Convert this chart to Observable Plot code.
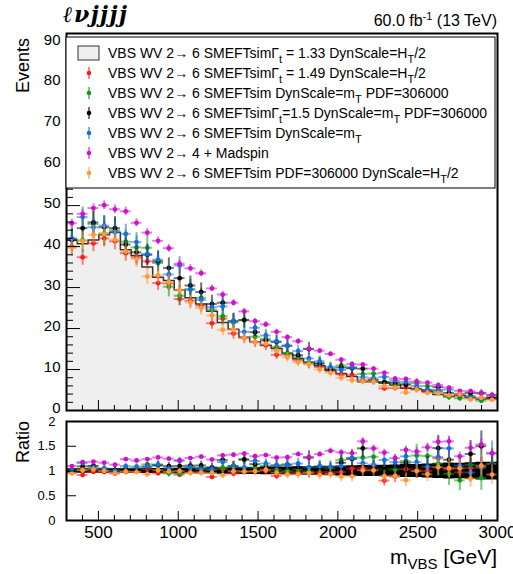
<!DOCTYPE html>
<html><head><meta charset="utf-8">
<script src="https://cdn.jsdelivr.net/npm/d3@7"></script>
<script src="https://cdn.jsdelivr.net/npm/@observablehq/plot@0.6"></script>
<style>
html,body{margin:0;padding:0;background:#fff;}
#wrap{position:relative;width:513px;height:574px;overflow:hidden;font-family:"Liberation Sans",Arial,Helvetica,sans-serif;}
#wrap > svg{position:absolute;left:0;overflow:visible;}
</style></head><body><div id="wrap"></div>
<script>
// ---------------- data ----------------
const binStart = 300, binWidth = 67.5;
const xTickLabels = [500, 1000, 1500, 2000, 2500, 3000];
const yTickLabels = [0, 10, 20, 30, 40, 50, 60, 70, 80, 90];
const ratioTickLabels = [0, 0.5, 1, 1.5, 2];

const hist = [41.6, 40.7, 41.6, 42.9, 43.5, 39.2, 37.8, 35.0, 32.5, 31.7, 29.4, 27.5, 26.0, 24.2, 21.5, 19.8, 17.9, 16.8, 15.9, 15.1,
              14.0, 12.6, 11.8, 10.9, 9.8, 9.0, 8.3, 7.0, 7.0, 6.7, 6.2, 5.4, 5.1, 4.6, 3.9, 3.5, 3.7, 3.2, 2.8, 2.8];
const red = [40.0, 37.4, 40.8, 42.0, 41.3, 38.4, 37.4, 36.4, 31.1, 31.0, 27.2, 26.8, 25.6, 21.3, 22.4, 18.8, 17.7, 16.7, 15.9, 13.6,
             13.6, 12.3, 11.4, 10.6, 9.6, 8.8, 8.7, 7.4, 7.4, 5.4, 5.5, 5.6, 5.3, 4.6, 4.9, 3.6, 3.6, 3.4, 3.0, 3.2];
const green = [41.9, 41.5, 45.5, 43.2, 44.0, 41.2, 39.8, 39.7, 36.0, 30.2, 28.0, 29.6, 27.5, 24.6, 23.0, 21.5, 22.0, 18.0, 17.5, 15.5,
               14.0, 13.0, 11.7, 11.6, 10.2, 11.0, 10.5, 8.9, 9.0, 6.9, 6.4, 6.5, 6.7, 6.0, 4.5, 3.3, 3.0, 3.6, 2.4, 3.2];
const black = [41.6, 44.5, 45.9, 44.7, 44.5, 40.5, 38.6, 38.0, 36.4, 34.8, 32.3, 30.5, 28.9, 26.0, 26.3, 21.8, 22.1, 19.1, 17.1, 16.7,
               15.8, 13.5, 15.0, 11.4, 10.0, 10.5, 10.3, 10.2, 7.4, 6.9, 6.8, 6.3, 5.3, 5.0, 5.7, 4.3, 3.9, 4.3, 4.2, 3.1];
const blue = [42.0, 47.2, 44.7, 45.1, 43.5, 43.1, 41.1, 38.2, 36.8, 33.2, 35.4, 29.5, 27.0, 25.2, 25.4, 21.8, 19.2, 20.2, 18.3, 16.9,
              15.8, 14.5, 12.7, 12.0, 10.6, 9.9, 10.5, 8.1, 7.9, 8.2, 7.3, 7.0, 6.0, 5.0, 5.0, 5.1, 4.1, 3.1, 3.0, 3.8];
const magenta = [45.7, 48.0, 49.4, 50.1, 49.1, 48.6, 45.8, 43.4, 41.4, 39.6, 35.8, 34.7, 33.5, 29.8, 28.3, 26.3, 24.2, 21.8, 21.0, 19.2,
                 17.9, 16.9, 15.1, 14.6, 13.8, 12.4, 11.3, 11.2, 10.2, 9.2, 7.8, 7.7, 7.1, 6.8, 6.2, 5.6, 4.8, 4.7, 4.3, 3.8];
const orange = [39.7, 41.3, 42.9, 43.1, 41.7, 38.8, 37.0, 32.7, 33.0, 31.3, 29.4, 26.4, 25.0, 23.2, 19.7, 19.7, 17.7, 16.7, 16.3, 14.6,
                13.0, 11.8, 11.3, 10.0, 9.2, 8.0, 7.4, 7.1, 7.1, 6.0, 5.6, 4.4, 5.1, 4.3, 4.2, 3.7, 3.9, 2.7, 3.1, 2.6];

const histLabel = "VBS WV 2→ 6 SMEFTsimΓ_{t} = 1.33 DynScale=H_{T}/2";
const seriesLabels = [
  "VBS WV 2→ 6 SMEFTsimΓ_{t} = 1.49 DynScale=H_{T}/2",
  "VBS WV 2→ 6 SMEFTsim DynScale=m_{T} PDF=306000",
  "VBS WV 2→ 6 SMEFTsimΓ_{t}=1.5 DynScale=m_{T}  PDF=306000",
  "VBS WV 2→ 6 SMEFTsim DynScale=m_{T}",
  "VBS WV 2→ 4 + Madspin",
  "VBS WV 2→ 6 SMEFTsim PDF=306000 DynScale=H_{T}/2"
];
const seriesValues = [red, green, black, blue, magenta, orange];
const seriesColors = ["#ff1a1a", "#109a10", "#000000", "#1a6fd6", "#cc11cc", "#ff9a3c"];
const errScale = [0.32, 0.45, 0.42, 0.36, 0.15, 0.34];

// ---------------- build ----------------
const bins = hist.map((h, i) => ({i, x1: binStart + i * binWidth, x2: binStart + (i + 1) * binWidth, xc: binStart + (i + 0.5) * binWidth, h,
  he: 0.3 * Math.sqrt(h) / h}));
const last = bins[bins.length - 1];
const stepPts = bins.map(b => ({x: b.x1, y: b.h, lo: 1 - b.he, hi: 1 + b.he}))
  .concat([{x: last.x2, y: last.h, lo: 1 - last.he, hi: 1 + last.he}]);

const series = seriesValues.map((vals, k) => vals.map((v, i) => {
  const e = errScale[k] * Math.sqrt(v);
  return {x1: bins[i].x1, x2: bins[i].x2, xc: bins[i].xc, v, e, r: v / hist[i], re: e / hist[i]};
}));

const W = 513, ML = 66, MR = 16;
const plotW = W - ML - MR;
const font = '"Liberation Sans", Arial, Helvetica, sans-serif';

function seriesMarks(key, errKey) {
  const m = [];
  series.forEach((pts, k) => {
    const c = seriesColors[k];
    m.push(Plot.ruleY(pts, {y: key, x1: "x1", x2: "x2", stroke: c, strokeOpacity: 0.55, strokeWidth: 2}));
    m.push(Plot.ruleX(pts, {x: "xc", y1: d => d[key] - d[errKey], y2: d => d[key] + d[errKey], stroke: c, strokeOpacity: 0.55, strokeWidth: 2}));
    m.push(Plot.dot(pts, {x: "xc", y: key, fill: c, r: 2.4}));
  });
  return m;
}

const xMinor = d3.range(300, 3001, 100);
const mainH = 412, mainMT = 33, mainMB = 2;
const mainPH = mainH - mainMT - mainMB;
const yMinor = d3.range(0, 92, 2);

const main = Plot.plot({
  width: W, height: mainH, marginLeft: ML, marginRight: MR, marginTop: mainMT, marginBottom: mainMB,
  style: {fontFamily: font, fontSize: "15px", color: "#000", background: "transparent", overflow: "visible"},
  x: {domain: [300, 3000], axis: null},
  y: {domain: [0, 92]},
  marks: [
    Plot.areaY(stepPts, {x: "x", y: "y", curve: "step-after", fill: "#efefef"}),
    Plot.line(stepPts, {x: "x", y: "y", curve: "step-after", stroke: "#333", strokeWidth: 1.5}),
    ...seriesMarks("v", "e"),
    Plot.tickY(yMinor.filter(d => d % 10 !== 0), {y: d => d, insetRight: plotW - 7, stroke: "#000"}),
    Plot.tickY(yTickLabels, {y: d => d, insetRight: plotW - 14, stroke: "#000"}),
    Plot.tickX(xMinor.filter(d => d % 500 !== 0), {x: d => d, insetTop: mainPH - 5, stroke: "#000"}),
    Plot.tickX(xTickLabels, {x: d => d, insetTop: mainPH - 10, stroke: "#000"}),
    Plot.axisY({ticks: yTickLabels, tickSize: 0, tickPadding: 6, fontSize: 15, label: null, dy: -2}),
    Plot.frame({stroke: "#000", strokeWidth: 2})
  ]
});
main.style.top = "0px";

const ratH = 162, ratMT = 9, ratMB = 54;
const ratPH = ratH - ratMT - ratMB;
const ratio = Plot.plot({
  width: W, height: ratH, marginLeft: ML, marginRight: MR, marginTop: ratMT, marginBottom: ratMB,
  style: {fontFamily: font, fontSize: "15px", color: "#000", background: "transparent", overflow: "visible"},
  x: {domain: [300, 3000]},
  y: {domain: [0, 2]},
  marks: [
    Plot.areaY(stepPts, {x: "x", y1: "lo", y2: "hi", curve: "step-after", fill: "#000"}),
    ...seriesMarks("r", "re"),
    Plot.tickY(ratioTickLabels, {y: d => d, insetRight: plotW - 10, stroke: "#000"}),
    Plot.tickX(xMinor.filter(d => d % 500 !== 0), {x: d => d, insetTop: ratPH - 5, stroke: "#000"}),
    Plot.tickX(xTickLabels, {x: d => d, insetTop: ratPH - 9, stroke: "#000"}),
    Plot.axisY({ticks: ratioTickLabels, tickFormat: d => String(d), tickSize: 0, tickPadding: 11, fontSize: 13, label: null}),
    Plot.axisX({ticks: xTickLabels, tickFormat: d => String(d), tickSize: 0, tickPadding: 5, fontSize: 17, label: null}),
    Plot.frame({stroke: "#000", strokeWidth: 2})
  ]
});
ratio.style.top = mainH + "px";

const wrap = document.getElementById("wrap");
wrap.appendChild(main);
wrap.appendChild(ratio);

// ---------------- text overlay ----------------
function esc(s) { return s.replace(/&/g, "&amp;").replace(/</g, "&lt;"); }
function rich(str, subSize, subDy) {
  const re = /([_^])\{([^}]*)\}/g;
  let out = "", lastIdx = 0, m, pending = 0;
  while ((m = re.exec(str))) {
    const before = str.slice(lastIdx, m.index);
    if (before) out += pending ? `<tspan dy="${pending}">${esc(before)}</tspan>` : esc(before), pending = before ? 0 : pending;
    const dy = (m[1] === "_" ? subDy : -subDy - 2) + pending;
    out += `<tspan dy="${dy}" font-size="${subSize}">${esc(m[2])}</tspan>`;
    pending = -(m[1] === "_" ? subDy : -subDy - 2);
    lastIdx = re.lastIndex;
  }
  const rest = str.slice(lastIdx);
  if (rest) out += pending ? `<tspan dy="${pending}">${esc(rest)}</tspan>` : esc(rest);
  return out;
}

let svg = `<svg xmlns="http://www.w3.org/2000/svg" width="${W}" height="574" style="top:0;pointer-events:none" font-family='${font}'>`;
svg += `<text x="63" y="22" font-family="DejaVu Serif" font-style="italic" font-weight="bold" font-size="22" letter-spacing="1.5">ℓνjjjj</text>`;
svg += `<text x="497" y="26" text-anchor="end" font-size="16">60.0 fb<tspan dy="-6" font-size="11">-1</tspan><tspan dy="6"> (13 TeV)</tspan></text>`;
svg += `<text transform="translate(29,38) rotate(-90)" text-anchor="end" font-size="18">Events</text>`;
svg += `<text transform="translate(29,421) rotate(-90)" text-anchor="end" font-size="18">Ratio</text>`;
svg += `<text x="497" y="564" text-anchor="end" font-size="21">m<tspan dy="5" font-size="15">VBS</tspan><tspan dy="-5"> [GeV]</tspan></text>`;
// legend
svg += `<rect x="66" y="37" width="429" height="151" fill="#fff" stroke="#000" stroke-width="1"/>`;
const lx = 108, ly0 = 58, ldy = 20;
svg += `<rect x="78" y="${ly0 - 12}" width="21" height="14" fill="#efefef" stroke="#333" stroke-width="1"/>`;
svg += `<text x="${lx}" y="${ly0}" font-size="14">${rich(histLabel, 11, 5)}</text>`;
seriesLabels.forEach((lab, k) => {
  const y = ly0 + (k + 1) * ldy;
  const c = seriesColors[k];
  svg += `<line x1="89" x2="89" y1="${y - 11}" y2="${y + 1}" stroke="${c}" stroke-opacity="0.55" stroke-width="2"/>`;
  svg += `<circle cx="89" cy="${y - 5}" r="2.3" fill="${c}"/>`;
  svg += `<text x="${lx}" y="${y}" font-size="14">${rich(lab, 11, 5)}</text>`;
});
svg += `</svg>`;
const tmp = document.createElement("div");
tmp.innerHTML = svg;
wrap.appendChild(tmp.firstChild);
</script></body></html>
